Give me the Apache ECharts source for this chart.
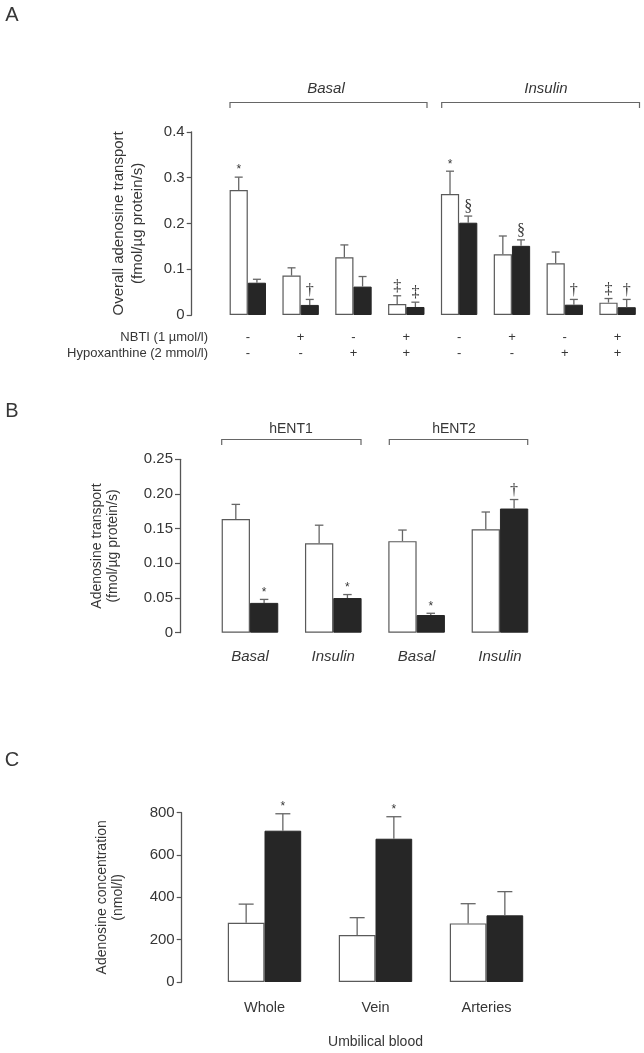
<!DOCTYPE html>
<html><head><meta charset="utf-8">
<script src="https://cdn.jsdelivr.net/npm/echarts@6/dist/echarts.min.js"></script>
<style>html,body{margin:0;padding:0;background:#fff}#c{width:644px;height:1053px}</style>
</head><body><div id="c"></div>
<script>
// ---------- Panel A data ----------
const aCategories = ['Basal -/-','Basal +/-','Basal -/+','Basal +/+','Insulin -/-','Insulin +/-','Insulin -/+','Insulin +/+'];
const aNbti = ['-','+','-','+','-','+','-','+'];
const aHypo = ['-','-','+','+','-','-','+','+'];
const aWhite = [0.273,0.086,0.126,0.024,0.264,0.1325,0.113,0.027];
const aWhiteSem = [0.028,0.017,0.027,0.018,0.050,0.040,0.0245,0.009];
const aBlack = [0.0705,0.022,0.062,0.0175,0.2015,0.151,0.0225,0.017];
const aBlackSem = [0.0075,0.012,0.022,0.0105,0.0145,0.013,0.0115,0.017];
const aWhiteMark = ['*','','','‡','*','','','‡'];
const aBlackMark = ['','†','','‡','§','§','†','†'];
const aTicks = [0,0.1,0.2,0.3,0.4];

// ---------- Panel B data ----------
const bCategories = ['Basal','Insulin','Basal','Insulin'];
const bWhite = [0.164,0.129,0.132,0.149];
const bWhiteSem = [0.021,0.026,0.016,0.025];
const bBlack = [0.043,0.050,0.0255,0.179];
const bBlackSem = [0.005,0.005,0.0025,0.013];
const bWhiteMark = ['','','',''];
const bBlackMark = ['*','*','*','†'];
const bTicks = [0,0.05,0.10,0.15,0.20,0.25];

// ---------- Panel C data ----------
const cCategories = ['Whole','Vein','Arteries'];
const cWhite = [280,222,277];
const cWhiteSem = [88,82,93];
const cBlack = [715,677,315];
const cBlackSem = [80,104,112];
const cWhiteMark = ['','',''];
const cBlackMark = ['*','*',''];
const cTicks = [0,200,400,600,800];

const TXT = '#363636';
const AX = '#555';
const BLACK = '#262626';
const FONT = 'Liberation Sans, Arial, sans-serif';

function errSeries(gridIdx, vals, sems, marks, side, barW, capW) {
  return {
    type: 'custom', xAxisIndex: gridIdx, yAxisIndex: gridIdx, z: 5,
    data: vals.map((v, i) => [i, v, v + sems[i]]),
    renderItem: function (params, api) {
      const i = api.value(0);
      const base = api.coord([i, api.value(1)]);
      const top = api.coord([i, api.value(2)]);
      const x = base[0] + side * barW / 2;
      const children = [
        { type: 'line', shape: { x1: x, y1: base[1], x2: x, y2: top[1] }, style: { stroke: '#666', lineWidth: 1.3 } },
        { type: 'line', shape: { x1: x - capW / 2, y1: top[1], x2: x + capW / 2, y2: top[1] }, style: { stroke: '#666', lineWidth: 1.3 } }
      ];
      const m = marks[params.dataIndex];
      if (m) {
        const star = m === '*';
        children.push({
          type: 'text', x: x, y: top[1] - 1,
          style: {
            text: m, fill: TXT,
            font: star ? '12px ' + FONT : '16px Liberation Serif, serif',
            align: 'center', verticalAlign: 'bottom',
            textAlign: 'center', textVerticalAlign: 'bottom'
          }
        });
      }
      return { type: 'group', children: children };
    }
  };
}

function barPair(gridIdx, white, black, barW) {
  return [
    { type: 'bar', xAxisIndex: gridIdx, yAxisIndex: gridIdx, data: white, barWidth: barW, barGap: '0%',
      itemStyle: { color: '#fff', borderColor: '#5a5a5a', borderWidth: 1.2 } },
    { type: 'bar', xAxisIndex: gridIdx, yAxisIndex: gridIdx, data: black, barWidth: barW, barGap: '0%',
      itemStyle: { color: BLACK, borderColor: BLACK, borderWidth: 1 } }
  ];
}

function yAx(gridIdx, ticks, offset, name, nameGap, fs, lh, fmt) {
  return {
    type: 'value', gridIndex: gridIdx, min: ticks[0], max: ticks[ticks.length - 1],
    interval: ticks[1] - ticks[0], offset: offset,
    axisLine: { show: true, lineStyle: { color: AX, width: 1.3 } },
    axisTick: { show: true, length: 5, lineStyle: { color: AX, width: 1.2 } },
    splitLine: { show: false },
    axisLabel: { color: TXT, fontSize: 15, fontFamily: FONT, margin: 7, formatter: fmt },
    name: name, nameLocation: 'middle', nameRotate: 90, nameGap: nameGap,
    nameTextStyle: { color: TXT, fontSize: fs, fontFamily: FONT, lineHeight: lh, align: 'center' }
  };
}

const txt = (x, y, t, font, align) => ({
  type: 'text', x: x, y: y, silent: true,
  style: { text: t, font: font, fill: TXT, align: align || 'center', verticalAlign: 'middle',
    textAlign: align || 'center', textVerticalAlign: 'middle' }
});
const bracket = (x1, x2, y) => ({
  type: 'polyline', silent: true,
  shape: { points: [[x1, y + 5.5], [x1, y], [x2, y], [x2, y + 5.5]] },
  style: { stroke: '#666', lineWidth: 1.2, fill: null }
});

const aBW = 18.2, bBW = 28.3, cBW = 36.7;

const option = {
  animation: false,
  backgroundColor: '#fff',
  grid: [
    { left: 221.4, width: 426.3, top: 131.8, height: 183.2 },
    { left: 208.3, width: 333.3, top: 459.3, height: 173.4 },
    { left: 209, width: 333, top: 812.7, height: 169.3 }
  ],
  xAxis: [
    { type: 'category', gridIndex: 0, data: aCategories,
      axisLine: { show: false }, axisTick: { show: false },
      axisLabel: { color: TXT, fontSize: 13, fontFamily: FONT, lineHeight: 16, margin: 14, interval: 0,
        formatter: (v, i) => aNbti[i] + '\n' + aHypo[i] } },
    { type: 'category', gridIndex: 1, data: bCategories,
      axisLine: { show: false }, axisTick: { show: false },
      axisLabel: { color: TXT, fontSize: 15, fontStyle: 'italic', fontFamily: FONT, margin: 17, interval: 0 } },
    { type: 'category', gridIndex: 2, data: cCategories,
      axisLine: { show: false }, axisTick: { show: false },
      axisLabel: { color: TXT, fontSize: 14.5, fontFamily: FONT, margin: 18, interval: 0 },
      name: 'Umbilical blood', nameLocation: 'middle', nameGap: 53,
      nameTextStyle: { color: TXT, fontSize: 14, fontFamily: FONT } }
  ],
  yAxis: [
    yAx(0, aTicks, 29.7, 'Overall adenosine transport\n(fmol/µg protein/s)', 44.5, 15, 19, v => v === 0 ? '0' : v.toFixed(1)),
    yAx(1, bTicks, 28.3, 'Adenosine transport\n(fmol/µg protein/s)', 58.4, 14, 16.6, v => v === 0 ? '0' : v.toFixed(2)),
    yAx(2, cTicks, 27.3, 'Adenosine concentration\n(nmol/l)', 55, 14, 16.6, v => String(v))
  ],
  series: [
    ...barPair(0, aWhite, aBlack, aBW),
    errSeries(0, aWhite, aWhiteSem, aWhiteMark, -1, aBW, 8),
    errSeries(0, aBlack, aBlackSem, aBlackMark, 1, aBW, 8),
    ...barPair(1, bWhite, bBlack, bBW),
    errSeries(1, bWhite, bWhiteSem, bWhiteMark, -1, bBW, 8.5),
    errSeries(1, bBlack, bBlackSem, bBlackMark, 1, bBW, 8.5),
    ...barPair(2, cWhite, cBlack, cBW),
    errSeries(2, cWhite, cWhiteSem, cWhiteMark, -1, cBW, 15),
    errSeries(2, cBlack, cBlackSem, cBlackMark, 1, cBW, 15)
  ],
  graphic: [
    txt(12, 15, 'A', '20px ' + FONT),
    txt(12, 411, 'B', '20px ' + FONT),
    txt(12, 760, 'C', '20px ' + FONT),
    bracket(230, 427, 102.5), bracket(441.7, 639.5, 102.5),
    txt(326, 89, 'Basal', 'italic 15px ' + FONT),
    txt(546, 89, 'Insulin', 'italic 15px ' + FONT),
    txt(208, 337, 'NBTI (1 µmol/l)', '13px ' + FONT, 'right'),
    txt(208, 353, 'Hypoxanthine (2 mmol/l)', '13px ' + FONT, 'right'),
    bracket(221.7, 361, 439.5), bracket(389.3, 527.7, 439.5),
    txt(291, 429, 'hENT1', '14px ' + FONT),
    txt(454, 429, 'hENT2', '14px ' + FONT)
  ]
};

const chart = echarts.init(document.getElementById('c'), null, { renderer: 'canvas' });
chart.setOption(option);
</script>
</body></html>
